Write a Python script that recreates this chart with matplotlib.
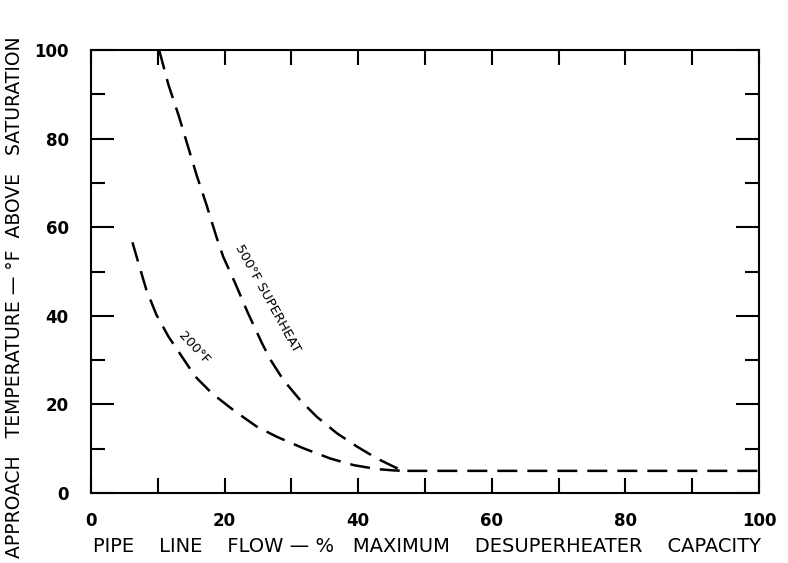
import matplotlib
matplotlib.use("Agg")
import matplotlib.pyplot as plt

# pipe line flow (%) vs approach temperature (deg F)
flow_500 = [10.2, 11.6, 13.1, 14.3, 15.8, 17.3, 18.8, 19.8, 21.6, 23.5, 25.6,
            26.9, 28.8, 31.3, 33.8, 36.8, 39.8, 42.8, 45.8, 47.0, 100.0]
temp_500 = [100, 92.1, 85.3, 79.3, 71.8, 65.0, 57.7, 53.3, 47.3, 40.6, 33.8,
            30.0, 25.5, 21.0, 17.2, 13.5, 10.5, 7.8, 5.6, 5.0, 5.0]

flow_200 = [6.2, 7.1, 8.3, 9.8, 11.6, 13.6, 15.6, 18.1, 21.5, 24.8, 27.8,
            31.8, 35.8, 39.3, 42.8, 45.3, 47.0]
temp_200 = [56.6, 51.9, 45.8, 40.2, 35.3, 30.8, 26.3, 22.5, 18.5, 15.0, 12.7,
            10.1, 7.8, 6.3, 5.4, 5.1, 5.0]

x_major = [0, 20, 40, 60, 80, 100]
x_minor = [10, 30, 50, 70, 90]
y_major = [0, 20, 40, 60, 80, 100]
y_minor = [10, 30, 50, 70, 90]

fig = plt.figure(figsize=(7.88, 5.63), dpi=100)
ax = fig.add_axes([0.1155, 0.1243, 0.8477, 0.7869])

dash = dict(color="black", lw=1.8, dashes=(8, 4), dash_capstyle="butt",
            solid_joinstyle="round")
ax.plot(flow_500, temp_500, **dash)
ax.plot(flow_200, temp_200, **dash)

ax.set_xlim(0, 100)
ax.set_ylim(0, 100)

ax.set_xticks(x_major)
ax.set_xticks(x_minor, minor=True)
ax.set_yticks(y_major)
ax.set_yticks(y_minor, minor=True)
ax.set_xticklabels([str(v) for v in x_major])
ax.set_yticklabels([str(v) for v in y_major])

for side in ax.spines.values():
    side.set_linewidth(1.5)

ax.tick_params(axis="x", which="both", direction="in", top=True, bottom=True,
               length=10.5, width=1.5, pad=14, labelsize=12)
ax.tick_params(axis="y", which="major", direction="in", left=True, right=True,
               length=16.5, width=1.5, pad=16, labelsize=12)
ax.tick_params(axis="y", which="minor", direction="in", left=True, right=True,
               length=10, width=1.5)
for lbl in ax.get_xticklabels() + ax.get_yticklabels():
    lbl.set_fontweight("bold")

ax.text(26.4, 44, "500°F SUPERHEAT", rotation=-61, ha="center", va="center",
        fontsize=9.5, rotation_mode="anchor")
ax.text(15.4, 32.8, "200°F", rotation=-47, ha="center", va="center",
        fontsize=9.5, rotation_mode="anchor")

fig.text(0.542, 0.012, "PIPE    LINE    FLOW — %   MAXIMUM    DESUPERHEATER    CAPACITY",
         ha="center", va="bottom", fontsize=14)
fig.text(0.019, 0.472, "APPROACH   TEMPERATURE — °F  ABOVE   SATURATION",
         ha="center", va="center", rotation=90, fontsize=13.5)

fig.savefig("out.png", dpi=100)
